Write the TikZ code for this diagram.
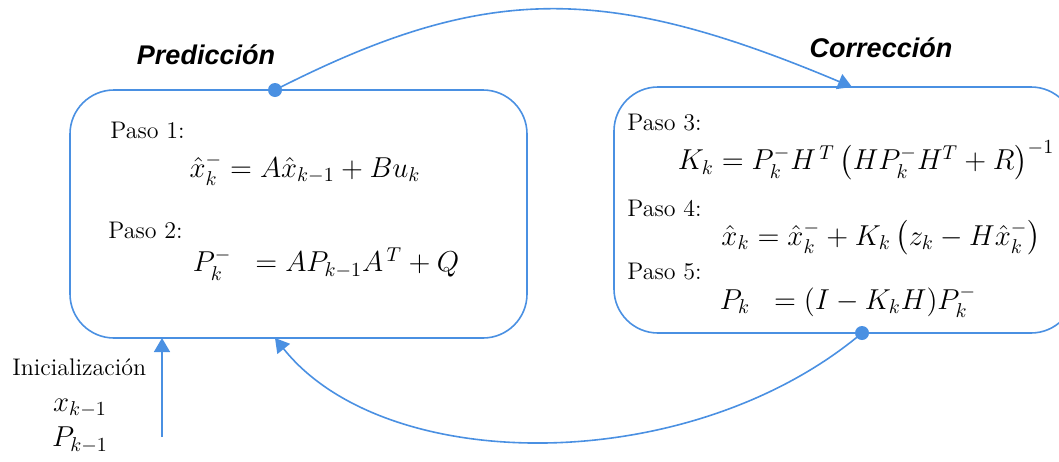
\documentclass[tikz,border=0pt]{standalone}
\usepackage{fontspec}
\usepackage{amsmath}
\usetikzlibrary{positioning,arrows.meta}
\newfontfamily\titfont{Liberation Sans}
\definecolor{kblue}{RGB}{74,144,226}

\begin{document}
\begin{tikzpicture}[x=0.5pt, y=-0.5pt,
    caja/.style={draw=kblue, line width=0.8pt, rounded corners=22pt},
    flecha/.style={draw=kblue, line width=0.8pt, -{Triangle[length=7pt,width=8pt]}},
    paso/.style={anchor=west, font=\large, inner sep=0pt},
    ecu/.style={font=\Large, inner sep=0pt},
    titulo/.style={font=\titfont\bfseries\itshape\fontsize{13.5}{16}\selectfont}]

\useasboundingbox (0,0) rectangle (1059,461);
\clip (0,0) rectangle (1059,461);

% cajas
\node[caja, minimum width=228.5pt, minimum height=124pt] (boxpred) at (298.5,214) {};
\node[caja, minimum width=230.5pt, minimum height=123pt] (boxcorr) at (844.5,210) {};

\node[titulo] (pred) at (206,55) {Predicción};
\node[titulo] (corr) at (881,48) {Corrección};

% prediccion
\node[paso] (paso1) at (110,130) {Paso 1:};
\node[ecu] (eq1) at (305,170) {$\hat{x}_k^{-} = A\hat{x}_{k-1} + Bu_k$};
\node[paso] (paso2) at (108,230) {Paso 2:};
\node[ecu] (eq2) at (326,264) {$P_k^{-} \;\; = AP_{k-1}A^{\,T} + Q$};

% correccion
\node[paso] (paso3) at (627,123) {Paso 3:};
\node[ecu] (eq3) at (866,160) {$K_k = P_k^{-}H^{\,T}\left(HP_k^{-}H^T + R\right)^{-1}$};
\node[paso] (paso4) at (627,208) {Paso 4:};
\node[ecu] (eq4) at (881,238) {$\hat{x}_k = \hat{x}_k^{-} + K_k\left(z_k - H\hat{x}_k^{-}\right)$};
\node[paso] (paso5) at (627,272) {Paso 5:};
\node[ecu] (eq5) at (848,302) {$P_k \;\; = (I - K_kH)P_k^{-}$};

% inicializacion
\node[paso] (init) at (12,367) {Inicialización};
\node[ecu] (xk1) at (80,408) {$x_{k-1}$};
\node[ecu] (pk1) at (80,440) {$P_{k-1}$};

\coordinate (initstart) at (162,437);
\coordinate (initend) at (162,338);
\coordinate (dotpred) at (275,90);
\coordinate (tipcorr) at (852,87);
\coordinate (dotcorr) at (862,333);
\coordinate (tippred) at (275,338);

\draw[flecha] (initstart) -- (initend);
\draw[flecha] (dotpred) .. controls (485,-17) and (605,-17) .. (tipcorr);
\draw[flecha] (dotcorr) .. controls (691,477) and (386,477) .. (tippred);
\fill[kblue] (dotpred) circle (3.5pt);
\fill[kblue] (dotcorr) circle (3.5pt);

\end{tikzpicture}
\end{document}
